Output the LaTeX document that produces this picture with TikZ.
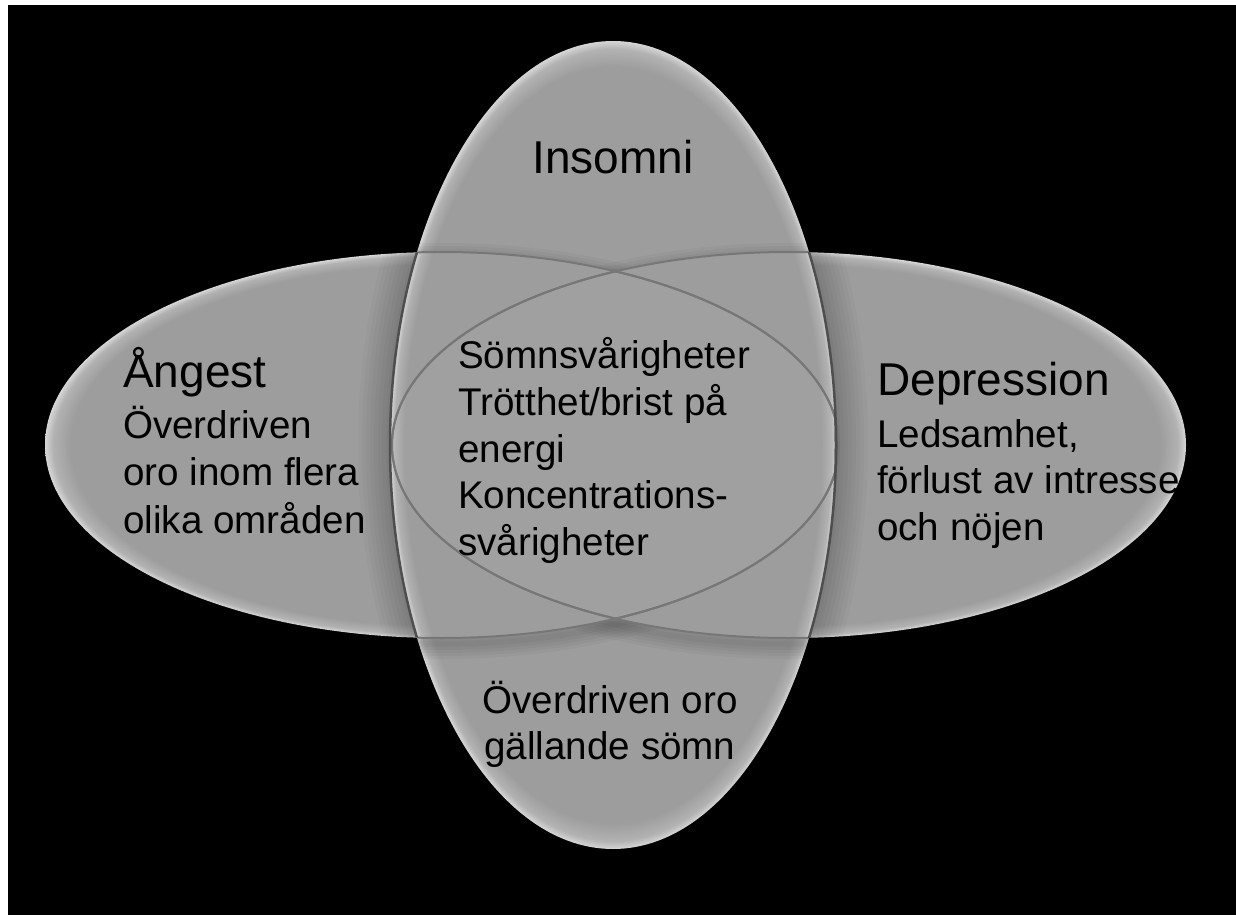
\documentclass[tikz,border=0pt]{standalone}
\usepackage{fontspec}
\setmainfont{Liberation Sans}
\definecolor{fillg}{HTML}{9D9D9D}
\definecolor{rimmid}{HTML}{B2B2B2}
\definecolor{rimg}{HTML}{D6D6D6}
\definecolor{edgeg}{HTML}{4E4E4E}
\definecolor{lensg}{HTML}{777777}
\pgfdeclareradialshading{rimshade}{\pgfpoint{0bp}{0bp}}{color(0bp)=(fillg); color(23.4bp)=(fillg); color(24.5bp)=(rimmid); color(25bp)=(rimg); color(50bp)=(rimg)}
\tikzset{
  Hr/.style={x radius=397pt, y radius=193pt},
  Vr/.style={x radius=223pt, y radius=404pt},
  rimfill/.style={shading=rimshade},
  vedge/.style={draw=edgeg, line width=2.5pt},
  lensline/.style={draw=lensg, line width=2pt},
  titletext/.style={font=\fontsize{46}{55}\selectfont, inner sep=0pt, text=black},
  bodytext/.style={font=\fontsize{38.6}{46.7}\selectfont, inner sep=0pt, text=black}
}
\begin{document}
\begin{tikzpicture}[x=1pt,y=-1pt]
\useasboundingbox (0,0) rectangle (1236,915);
\fill[white] (0,0) rectangle (1236,915);
\fill[black] (8,5) rectangle (1236,915);
\coordinate (cL) at (442,445);
\coordinate (cR) at (789,445);
\coordinate (cV) at (613,445);
\coordinate (cLs) at (442,451);
\coordinate (cRs) at (789,451);
% horizontal ellipses
\path[rimfill] (cL) ellipse [Hr];
\path[rimfill] (cR) ellipse [Hr];
% soft shadow around vertical ellipse
\begin{scope}
  \clip (cL) ellipse [Hr];
  \foreach \w in {64,56,...,8}
    \draw[line width=\w pt, black, draw opacity=0.025] (cV) ellipse [Vr];
\end{scope}
\begin{scope}
  \clip (cR) ellipse [Hr];
  \foreach \w in {64,56,...,8}
    \draw[line width=\w pt, black, draw opacity=0.025] (cV) ellipse [Vr];
\end{scope}
% vertical ellipse
\path[rimfill] (cV) ellipse [Vr];
% soft shadow below the horizontal ellipses inside the vertical one
\begin{scope}[even odd rule]
  \clip (cV) ellipse [Vr];
  \clip (0,0) rectangle (1236,915) (cL) ellipse [Hr];
  \clip (0,0) rectangle (1236,915) (cR) ellipse [Hr];
  \foreach \w in {30,24,...,6} {
    \draw[line width=\w pt, black, draw opacity=0.03] (cLs) ellipse [Hr];
    \draw[line width=\w pt, black, draw opacity=0.03] (cRs) ellipse [Hr];
  }
\end{scope}
% lens slightly lighter
\begin{scope}
  \clip (cL) ellipse [Hr];
  \fill[white, fill opacity=0.04] (cR) ellipse [Hr];
\end{scope}
% lens lines
\begin{scope}
  \clip (cV) ellipse [Vr];
  \draw[lensline] (cL) ellipse [Hr];
  \draw[lensline] (cR) ellipse [Hr];
\end{scope}
\begin{scope}
  \clip (cR) ellipse [Hr];
  \draw[lensline] (cL) ellipse [Hr];
\end{scope}
\begin{scope}
  \clip (cL) ellipse [Hr];
  \draw[lensline] (cR) ellipse [Hr];
\end{scope}
% vertical edge within horizontals
\begin{scope}
  \clip (cL) ellipse [Hr];
  \draw[vedge] (cV) ellipse [Vr];
\end{scope}
\begin{scope}
  \clip (cR) ellipse [Hr];
  \draw[vedge] (cV) ellipse [Vr];
\end{scope}
% texts
\node[titletext, anchor=base] (insomni) at (613,173) {Insomni};
\node[titletext, anchor=base west] (angest) at (123,387) {Ångest};
\node[bodytext, anchor=base west] (a1) at (123,438) {Överdriven};
\node[bodytext, anchor=base west] (a2) at (123,485) {oro inom flera};
\node[bodytext, anchor=base west] (a3) at (123,533) {olika områden};
\node[titletext, anchor=base west] (depr) at (877,395) {Depression};
\node[bodytext, anchor=base west] (d1) at (877,447) {Ledsamhet,};
\node[bodytext, anchor=base west] (d2) at (877,493) {förlust av intresse};
\node[bodytext, anchor=base west] (d3) at (877,540) {och nöjen};
\node[bodytext, anchor=base west] (c1) at (458,368) {Sömnsvårigheter};
\node[bodytext, anchor=base west] (c2) at (458,415) {Trötthet/brist på};
\node[bodytext, anchor=base west] (c3) at (458,462) {energi};
\node[bodytext, anchor=base west] (c4) at (458,508) {Koncentrations-};
\node[bodytext, anchor=base west] (c5) at (458,555) {svårigheter};
\node[bodytext, anchor=base] (b1) at (610,713) {Överdriven oro};
\node[bodytext, anchor=base] (b2) at (610,759) {gällande sömn};
\end{tikzpicture}
\end{document}
